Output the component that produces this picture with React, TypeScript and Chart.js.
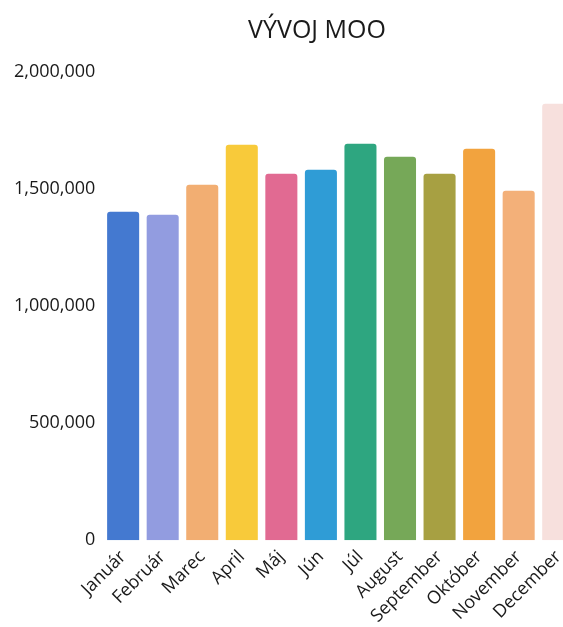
import React, { useEffect, useRef } from "react";
import { Chart, registerables } from "chart.js";

Chart.register(...registerables);

const months = ["Január", "Február", "Marec", "April", "Máj", "Jún", "Júl", "August", "September", "Október", "November", "December"];
const values = [1403000, 1390000, 1518000, 1689000, 1565000, 1582000, 1693000, 1638000, 1565000, 1672000, 1493000, 1864000];
const barColors = ["#4479d0", "#929ce0", "#f2ae72", "#f8ca3a", "#e16a92", "#2f9cd6", "#2ea680", "#76a858", "#a7a042", "#f2a33e", "#f3b079", "#f7e0dd"];
const yTicks = [0, 500000, 1000000, 1500000, 2000000];
const title = "VÝVOJ MOO";

export default function App() {
  const ref = useRef<HTMLCanvasElement>(null);
  useEffect(() => {
    if (!ref.current) return;
    const chart = new Chart(ref.current, {
      type: "bar",
      data: {
        labels: months,
        datasets: [
          {
            data: values,
            backgroundColor: barColors,
            borderRadius: 3,
            borderSkipped: "bottom",
            barPercentage: 0.9,
            categoryPercentage: 0.9,
          },
        ],
      },
      options: {
        responsive: false,
        animation: false,
        layout: { padding: { left: 0, right: 0, top: 0, bottom: 0 } },
        plugins: {
          legend: { display: false },
          tooltip: { enabled: false },
          title: {
            display: true,
            text: title,
            color: "#1a1a1a",
            font: { family: "'Open Sans'", size: 25, weight: "normal" },
            padding: { top: 8, bottom: 26 },
          },
        },
        scales: {
          x: {
            grid: { display: false, drawTicks: false },
            border: { display: false },
            afterFit: (axis: any) => {
              axis.paddingLeft = 0;
              axis.paddingRight = 0;
            },
            ticks: {
              color: "#1a1a1a",
              font: { family: "'Open Sans'", size: 18 },
              maxRotation: 45,
              minRotation: 45,
              padding: 6,
            },
          },
          y: {
            min: 0,
            max: yTicks[yTicks.length - 1],
            grid: { display: false, drawTicks: false },
            border: { display: false },
            afterBuildTicks: (axis: any) => {
              axis.ticks = yTicks.map((v) => ({ value: v }));
            },
            ticks: {
              color: "#1a1a1a",
              font: { family: "'Open Sans'", size: 18 },
              padding: 8,
            },
          },
          yRight: {
            position: "right",
            display: true,
            grid: { display: false, drawTicks: false },
            border: { display: false },
            ticks: { display: false },
            afterFit: (axis: any) => {
              axis.width = 50;
            },
          },
        },
      },
    });
    return () => chart.destroy();
  }, []);
  return (
    <div style={{ position: "fixed", left: 0, top: 0, width: 563, height: 627, overflow: "hidden", background: "#fff" }}>
      <canvas ref={ref} width={622} height={625} style={{ display: "block", position: "absolute", left: 6, top: 8 }} />
    </div>
  );
}
